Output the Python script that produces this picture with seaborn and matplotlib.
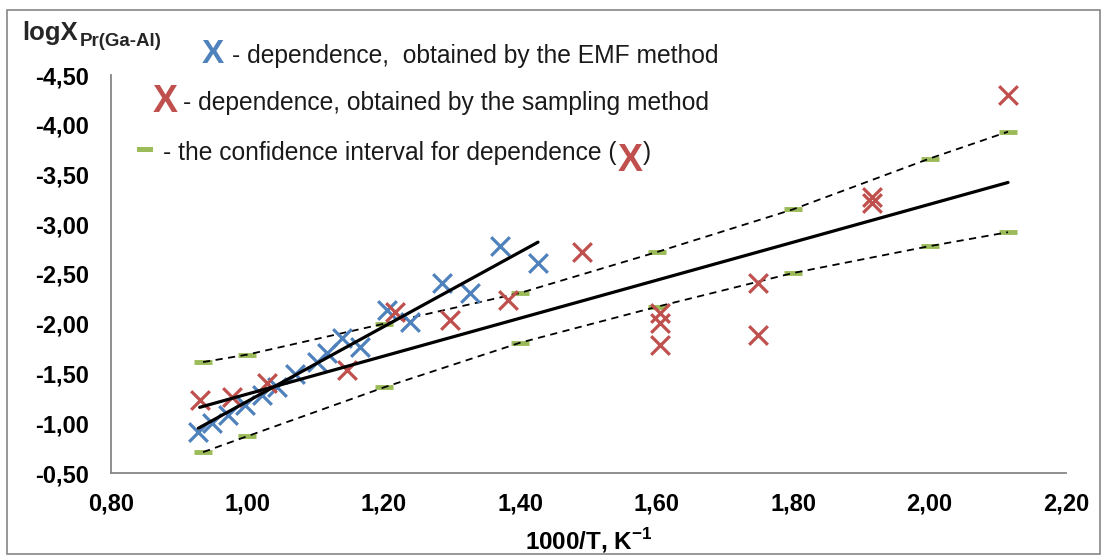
import numpy as np
import pandas as pd
import matplotlib
matplotlib.use("Agg")
import matplotlib.pyplot as plt
import seaborn as sns
from matplotlib.patches import Rectangle

# ---- data ----
emf_x = [0.928, 0.948, 0.972, 0.996, 1.021, 1.043, 1.070, 1.102, 1.117, 1.139,
         1.165, 1.205, 1.238, 1.285, 1.326, 1.370, 1.426]
emf_y = [-0.91, -1.00, -1.08, -1.18, -1.28, -1.36, -1.50, -1.62, -1.71, -1.86,
         -1.77, -2.14, -2.02, -2.41, -2.31, -2.78, -2.61]

smp_x = [0.930, 0.977, 1.029, 1.146, 1.216, 1.297, 1.382, 1.491, 1.605, 1.605,
         1.605, 1.749, 1.749, 1.916, 1.916, 2.115]
smp_y = [-1.23, -1.26, -1.40, -1.535, -2.12, -2.04, -2.24, -2.72, -2.11, -2.01,
         -1.79, -2.41, -1.89, -3.27, -3.21, -4.30]

emf_fit_x = [0.928, 1.426]
emf_fit_y = [-0.95, -2.82]
smp_fit_x = [0.930, 2.115]
smp_fit_y = [-1.16, -3.42]

ci_x = [0.935, 1.00, 1.20, 1.40, 1.60, 1.80, 2.00, 2.115]
ci_upper = [-1.615, -1.69, -2.00, -2.31, -2.72, -3.15, -3.66, -3.93]
ci_lower = [-0.71, -0.87, -1.36, -1.81, -2.17, -2.51, -2.78, -2.92]

xticks = [0.80, 1.00, 1.20, 1.40, 1.60, 1.80, 2.00, 2.20]
xtick_labels = ["0,80", "1,00", "1,20", "1,40", "1,60", "1,80", "2,00", "2,20"]
yticks = [-4.50, -4.00, -3.50, -3.00, -2.50, -2.00, -1.50, -1.00, -0.50]
ytick_labels = ["-4,50", "-4,00", "-3,50", "-3,00", "-2,50", "-2,00", "-1,50", "-1,00", "-0,50"]

BLUE = "#4F81BD"
RED = "#C0504D"
GREEN = "#9BBB59"
GRAY = "#868686"

sns.set_theme(style="white")
plt.rcParams["font.family"] = ["Liberation Sans", "DejaVu Sans"]
plt.rcParams["mathtext.fontset"] = "custom"
plt.rcParams["mathtext.rm"] = "Liberation Sans"
plt.rcParams["mathtext.bf"] = "Liberation Sans:bold"

W, H = 1102, 556
fig, ax = plt.subplots(figsize=(W / 100, H / 100), dpi=100)
fig.subplots_adjust(left=111 / W, right=1066 / W, bottom=1 - 473 / H, top=1 - 75 / H)

# confidence interval band lines + markers
sns.lineplot(x=ci_x, y=ci_upper, ax=ax, color="black", linewidth=1.3,
             linestyle=(0, (4, 3)), zorder=3)
sns.lineplot(x=ci_x, y=ci_lower, ax=ax, color="black", linewidth=1.3,
             linestyle=(0, (4, 3)), zorder=3)
sns.scatterplot(x=ci_x + ci_x, y=ci_upper + ci_lower, ax=ax, marker="_", s=150,
                linewidth=3.5, color=GREEN, zorder=2)

# fit lines
sns.lineplot(x=emf_fit_x, y=emf_fit_y, ax=ax, color="black", linewidth=2.3, zorder=5)
sns.lineplot(x=smp_fit_x, y=smp_fit_y, ax=ax, color="black", linewidth=2.3, zorder=5)

# points
sns.scatterplot(x=emf_x, y=emf_y, ax=ax, marker="x", s=180, linewidth=2.3,
                color=BLUE, zorder=4)
sns.scatterplot(x=smp_x, y=smp_y, ax=ax, marker="x", s=180, linewidth=2.3,
                color=RED, zorder=4)

ax.set_xlim(0.8, 2.2)
ax.set_ylim(-0.5, -4.5)
ax.set_xticks(xticks)
ax.set_xticklabels(xtick_labels)
ax.set_yticks(yticks)
ax.set_yticklabels(ytick_labels)
ax.grid(False)
for s in ["top", "right"]:
    ax.spines[s].set_visible(False)
for s in ["left", "bottom"]:
    ax.spines[s].set_color(GRAY)
    ax.spines[s].set_linewidth(1.3)
ax.tick_params(axis="both", direction="in", length=7, width=1.1, color=GRAY,
               labelsize=17, labelcolor="black")
ax.tick_params(axis="x", pad=14)
ax.tick_params(axis="y", pad=16)
for lbl in ax.get_xticklabels() + ax.get_yticklabels():
    lbl.set_fontweight("bold")

ax.set_xlabel(r"1000/T, K$^{\mathbf{-1}}$", fontsize=17.5, fontweight="bold",
              color="black", labelpad=8)
ax.set_ylabel("")


def P(x, y):
    return x / W, 1 - y / H


# y-axis title
fig.text(*P(22, 40), "logX", fontsize=18.5, fontweight="bold", va="baseline", ha="left")
fig.text(*P(80, 46), "Pr(Ga-Al)", fontsize=13.5, fontweight="bold", va="baseline", ha="left")

# legend-like annotations
fig.text(*P(202, 63), "X", fontsize=24, fontweight="bold", color=BLUE, va="baseline")
fig.text(*P(232, 63), "- dependence,  obtained by the EMF method", fontsize=17.7,
         va="baseline", color="#1a1a1a")
fig.text(*P(153, 112), "X", fontsize=27, fontweight="bold", color=RED, va="baseline")
fig.text(*P(183, 110), "- dependence, obtained by the sampling method", fontsize=17.7,
         va="baseline", color="#1a1a1a")
fig.add_artist(Rectangle(P(137, 152), 16 / W, 5 / H, transform=fig.transFigure,
                         color=GREEN, lw=0))
fig.text(*P(163, 160), "- the confidence interval for dependence (", fontsize=17.7,
         va="baseline", color="#1a1a1a")
fig.text(*P(618, 171), "X", fontsize=27, fontweight="bold", color=RED, va="baseline")
fig.text(*P(643, 160), ")", fontsize=17.7, va="baseline", color="#1a1a1a")

# outer chart border
fig.add_artist(Rectangle(P(7, 554), (1100 - 7) / W, (554 - 10) / H,
                         transform=fig.transFigure, fill=False, edgecolor=GRAY, lw=1.2))

fig.savefig("out.png", dpi=100)
